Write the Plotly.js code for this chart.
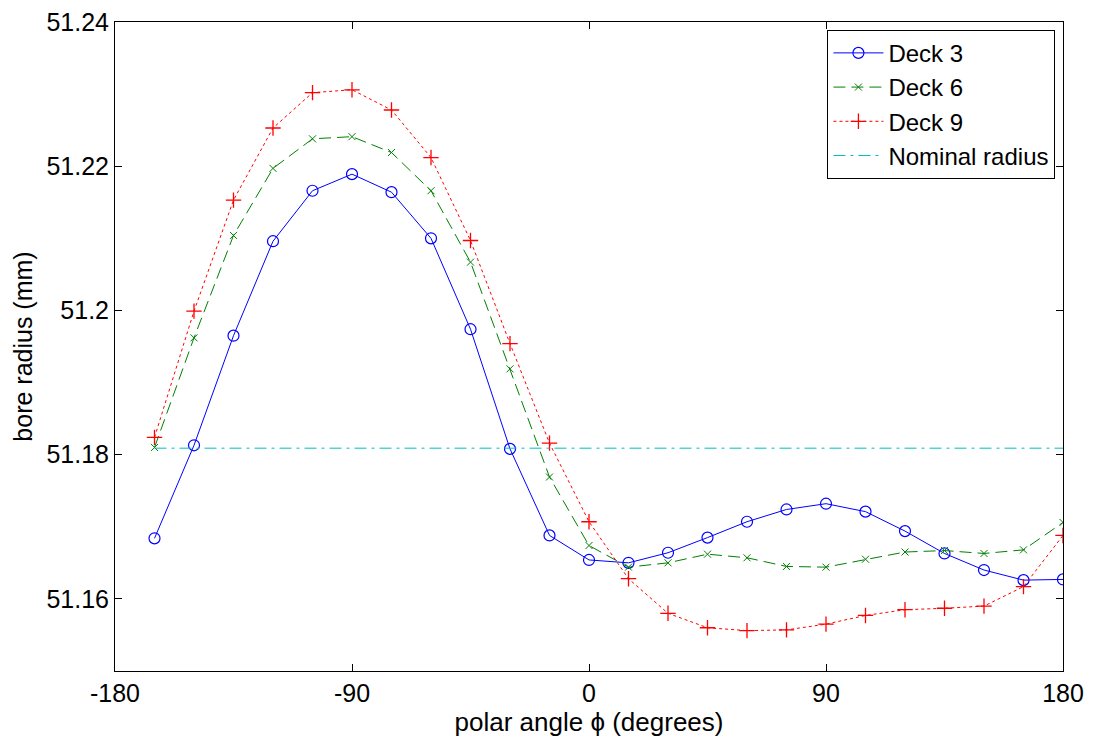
<!DOCTYPE html>
<html>
<head>
<meta charset="utf-8">
<script src="https://cdn.plot.ly/plotly-3.0.1.min.js"></script>
<style>html,body{margin:0;padding:0;background:#fff;}#chart{width:1097px;height:738px;}</style>
</head>
<body>
<div id="chart"></div>
<script>
const angles = [-165,-150,-135,-120,-105,-90,-75,-60,-45,-30,-15,0,15,30,45,60,75,90,105,120,135,150,165,180];
const deck3 = [51.1684,51.1813,51.1965,51.2096,51.2166,51.2189,51.2164,51.2100,51.1974,51.1808,51.1688,51.1654,51.1650,51.1664,51.1685,51.1707,51.1724,51.1732,51.1721,51.1694,51.1663,51.1640,51.1626,51.1627];
const deck6 = [51.1810,51.1962,51.2104,51.2197,51.2238,51.2241,51.2219,51.2166,51.2067,51.1919,51.1769,51.1674,51.1644,51.1650,51.1662,51.1657,51.1645,51.1644,51.1655,51.1665,51.1667,51.1663,51.1668,51.1706];
const deck9 = [51.1824,51.1999,51.2153,51.2253,51.2302,51.2306,51.2278,51.2212,51.2097,51.1954,51.1816,51.1707,51.1628,51.1580,51.1560,51.1556,51.1557,51.1565,51.1577,51.1585,51.1587,51.1590,51.1617,51.1688];
const nominalX = [-165,180];
const nominalY = [51.1809,51.1809];
const xTicks = [-180,-90,0,90,180];
const yTicks = [51.16,51.18,51.2,51.22,51.24];
const yTickText = ['51.16','51.18','51.2','51.22','51.24'];

const FONT = 'Liberation Sans, Arial, sans-serif';
const traces = [
  {x: angles, y: deck3, name: 'Deck 3', mode: 'lines+markers',
   line: {color: 'rgb(0,0,255)', width: 1},
   marker: {symbol: 'circle-open', size: 11, color: 'rgb(0,0,255)', line: {width: 1.2}}},
  {x: angles, y: deck6, name: 'Deck 6', mode: 'lines+markers',
   line: {color: 'rgb(0,128,0)', width: 1, dash: '12px,6px'},
   marker: {symbol: 'x-thin-open', size: 7, color: 'rgb(0,128,0)', line: {width: 1, color: 'rgb(0,128,0)'}}},
  {x: angles, y: deck9, name: 'Deck 9', mode: 'lines+markers',
   line: {color: 'rgb(255,0,0)', width: 1, dash: '3px,3px'},
   marker: {symbol: 'cross-thin-open', size: 11, color: 'rgb(255,0,0)', line: {width: 1.3, color: 'rgb(255,0,0)'}}},
  {x: nominalX, y: nominalY, name: 'Nominal radius', mode: 'lines',
   line: {color: 'rgb(0,191,191)', width: 1, dash: '12px,5px,3px,5px'}}
];

const layout = {
  width: 1097, height: 738,
  paper_bgcolor: '#fff', plot_bgcolor: '#fff',
  margin: {l: 115, r: 34, t: 22, b: 67},
  font: {family: FONT, size: 25, color: '#000'},
  showlegend: true,
  legend: {x: 0.992, xanchor: 'right', y: 0.988, yanchor: 'top',
           bgcolor: '#fff', bordercolor: '#000', borderwidth: 1, itemwidth: 50,
           font: {family: FONT, size: 24, color: '#000'}, tracegroupgap: 0},
  xaxis: {range: [-180,180], tickvals: xTicks, ticktext: xTicks.map(String),
          ticks: 'inside', ticklen: 7, tickcolor: '#000', showline: true, linecolor: '#000', linewidth: 1,
          mirror: 'ticks', showgrid: false, zeroline: false,
          tickfont: {family: FONT, size: 25},
          title: {text: 'polar angle ϕ (degrees)', font: {family: FONT, size: 26}, standoff: 2}},
  yaxis: {range: [51.15,51.24], tickvals: yTicks, ticktext: yTickText,
          ticks: 'inside', ticklen: 7, tickcolor: '#000', showline: true, linecolor: '#000', linewidth: 1,
          mirror: 'ticks', showgrid: false, zeroline: false,
          tickfont: {family: FONT, size: 25},
          title: {text: 'bore radius (mm)', font: {family: FONT, size: 25}, standoff: 6}}
};

Plotly.newPlot('chart', traces, layout, {displayModeBar: false, staticPlot: true});
</script>
</body>
</html>
